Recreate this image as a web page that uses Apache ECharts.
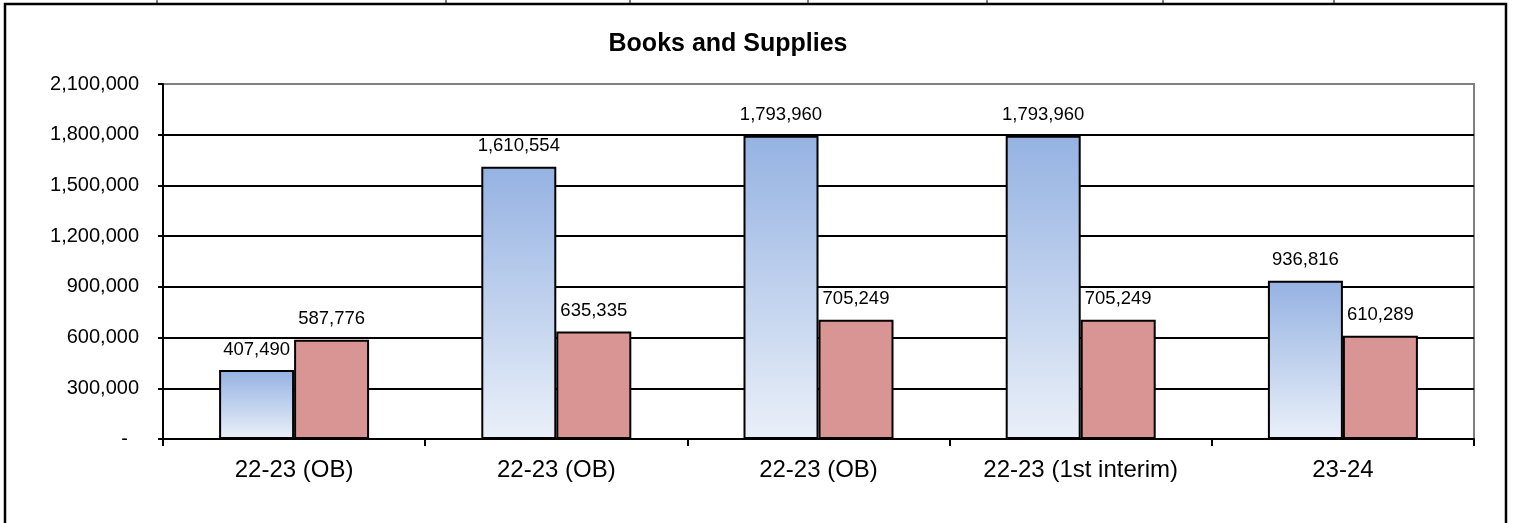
<!DOCTYPE html>
<html>
<head>
<meta charset="utf-8">
<script src="https://cdn.jsdelivr.net/npm/echarts@6/dist/echarts.min.js"></script>
<style>
  html, body { margin: 0; padding: 0; background: #ffffff; }
  #chart { width: 1518px; height: 523px; }
</style>
</head>
<body>
<div id="chart"></div>
<script>
// Books and Supplies: budget vs. comparison amounts per budget round
const categories = ['22-23 (OB)', '22-23 (OB)', '22-23 (OB)', '22-23 (1st interim)', '23-24'];
const blueValues = [407490, 1610554, 1793960, 1793960, 936816];
const redValues  = [587776, 635335, 705249, 705249, 610289];
const yTicks = { min: 0, max: 2100000, interval: 300000 };

const FONT = '"Liberation Sans", Arial, sans-serif';
const fmt = v => v.toLocaleString('en-US');

// short spreadsheet cell dividers peeking above the chart frame
const cellDividers = [157, 446, 630, 808, 987, 1163, 1334];

const chart = echarts.init(document.getElementById('chart'), null, { renderer: 'canvas' });

const graphics = [
  // chart frame (left, top, right edges)
  { type: 'polyline', silent: true, z: 100,
    shape: { points: [[5, 523], [5, 4], [1506, 4], [1506, 523]] },
    style: { stroke: '#000', lineWidth: 2.5, fill: null } }
];
cellDividers.forEach(x => {
  graphics.push({ type: 'line', silent: true, z: 100,
    shape: { x1: x, y1: 0, x2: x, y2: 3 },
    style: { stroke: '#000', lineWidth: 1 } });
});

chart.setOption({
  backgroundColor: '#ffffff',
  animation: false,
  title: {
    text: 'Books and Supplies',
    left: 728, top: 32, textAlign: 'center', padding: 0,
    textStyle: { fontFamily: FONT, fontSize: 25, fontWeight: 'bold', color: '#000' }
  },
  grid: {
    left: 163, right: 44, top: 84, bottom: 84,
    show: true, borderColor: '#808080', borderWidth: 2, backgroundColor: 'transparent'
  },
  xAxis: {
    type: 'category',
    data: categories,
    axisLine: { lineStyle: { color: '#000', width: 2 } },
    axisTick: { show: true, length: 7, inside: false, lineStyle: { color: '#000', width: 2 } },
    axisLabel: { fontFamily: FONT, fontSize: 24, color: '#000', margin: 19, interval: 0 },
    z: 5
  },
  yAxis: {
    type: 'value',
    min: yTicks.min, max: yTicks.max, interval: yTicks.interval,
    axisLine: { show: true, lineStyle: { color: '#000', width: 2 } },
    axisTick: { show: true, length: 5, lineStyle: { color: '#000', width: 2 } },
    splitLine: { show: true, showMaxLine: false, lineStyle: { color: '#000', width: 2 } },
    axisLabel: {
      fontFamily: FONT, fontSize: 20, color: '#000', margin: 24,
      formatter: v => v === 0 ? '-  ' : fmt(v)
    },
    z: 5
  },
  series: [
    {
      type: 'bar',
      data: blueValues,
      barWidth: 75,
      barGap: '0%',
      itemStyle: {
        color: new echarts.graphic.LinearGradient(0, 0, 0, 1, [
          { offset: 0, color: '#95b2e2' },
          { offset: 1, color: '#eaf0f9' }
        ]),
        borderColor: '#000', borderWidth: 2
      },
      label: {
        show: true, position: 'top', distance: 11,
        fontFamily: FONT, fontSize: 18.5, color: '#000',
        formatter: p => fmt(p.value)
      },
      z: 10
    },
    {
      type: 'bar',
      data: redValues,
      barWidth: 75,
      barGap: '0%',
      itemStyle: { color: '#d99594', borderColor: '#000', borderWidth: 2 },
      label: {
        show: true, position: 'top', distance: 11,
        fontFamily: FONT, fontSize: 18.5, color: '#000',
        formatter: p => fmt(p.value)
      },
      z: 10
    }
  ],
  graphic: graphics
});
</script>
</body>
</html>
